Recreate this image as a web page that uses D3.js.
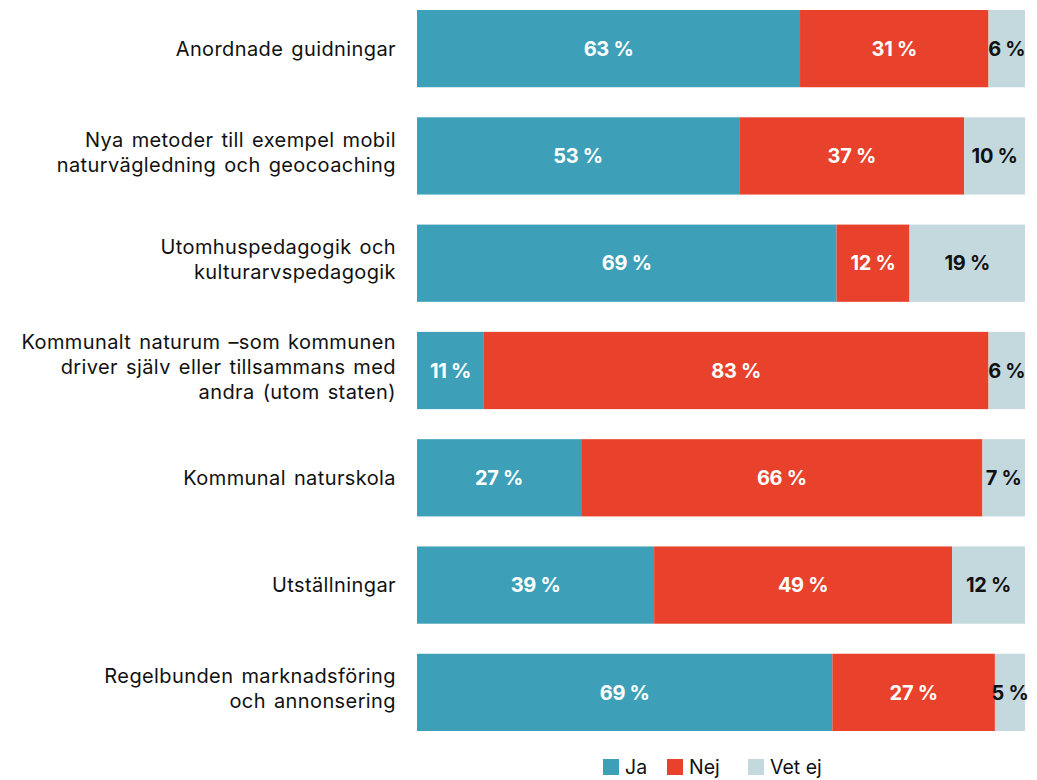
<!DOCTYPE html>
<html>
<head>
<meta charset="utf-8">
<script src="https://cdn.jsdelivr.net/npm/d3@7"></script>
<style>
  body { margin: 0; background: #fff; }
  text { font-family: Inter, Roboto, "Noto Sans", sans-serif; }
</style>
</head>
<body>
<script>
  // data
  var categories = [
    ["Anordnade guidningar"],
    ["Nya metoder till exempel mobil", "naturvägledning och geocoaching"],
    ["Utomhuspedagogik och", "kulturarvspedagogik"],
    ["Kommunalt naturum –som kommunen", "driver själv eller tillsammans med", "andra (utom staten)"],
    ["Kommunal naturskola"],
    ["Utställningar"],
    ["Regelbunden marknadsföring", "och annonsering"]
  ];
  var ja    = [63, 53, 69, 11, 27, 39, 69];
  var nej   = [31, 37, 12, 83, 66, 49, 27];
  var vetEj = [6, 10, 19, 6, 7, 12, 5];
  var seriesNames = ["Ja", "Nej", "Vet ej"];
  var colors = ["#3ea0b8", "#e8412c", "#c4d9de"];

  var width = 1037, height = 780;
  var svg = d3.select("body").append("svg").attr("width", width).attr("height", height);

  var rows = categories.map(function(c, i) {
    return { idx: i, label: c, vals: [ja[i], nej[i], vetEj[i]] };
  });

  var yScale = d3.scaleBand()
    .domain(d3.range(rows.length))
    .range([10, 731])
    .paddingInner(0.28)
    .paddingOuter(0);

  var xScale = d3.scaleLinear().domain([0, 1]).range([417, 1025]);

  // bars
  rows.forEach(function(r) {
    var total = d3.sum(r.vals);
    var acc = 0;
    var g = svg.append("g");
    r.vals.forEach(function(v, k) {
      var x0 = xScale(acc / total), x1 = xScale((acc + v) / total);
      acc += v;
      g.append("rect")
        .attr("x", x0)
        .attr("y", yScale(r.idx))
        .attr("width", x1 - x0)
        .attr("height", yScale.bandwidth())
        .attr("fill", colors[k]);
      g.append("text")
        .attr("x", (x0 + x1) / 2)
        .attr("y", yScale(r.idx) + yScale.bandwidth() / 2)
        .attr("dy", "0.36em")
        .attr("text-anchor", "middle")
        .attr("font-family", "Roboto, sans-serif")
        .attr("font-size", "20px")
        .attr("font-weight", "bold")
        .attr("letter-spacing", "-0.3px")
        .attr("fill", k < 2 ? "#fff" : "#111")
        .text(v + " %");
    });

    // category label (multi-line labels sit a little high)
    var n = r.label.length;
    var cy = yScale(r.idx) + yScale.bandwidth() / 2 - (n > 1 ? 4 : 0);
    var t = svg.append("text")
      .attr("text-anchor", "end")
      .attr("font-size", "20px")
      .attr("letter-spacing", "0.4px")
      .attr("word-spacing", "2px")
      .attr("fill", "#111");
    r.label.forEach(function(line, j) {
      t.append("tspan")
        .attr("x", 396)
        .attr("y", cy + (j - (n - 1) / 2) * 25)
        .attr("dy", "0.36em")
        .text(line);
    });
  });

  // legend
  var legendX = [603, 667, 748];
  var legend = svg.append("g");
  seriesNames.forEach(function(s, k) {
    legend.append("rect")
      .attr("x", legendX[k]).attr("y", 759)
      .attr("width", 16).attr("height", 16)
      .attr("fill", colors[k]);
    legend.append("text")
      .attr("x", legendX[k] + 22).attr("y", 767)
      .attr("dy", "0.36em")
      .attr("font-size", "19.5px")
      .attr("fill", "#111")
      .text(s);
  });
</script>
</body>
</html>
